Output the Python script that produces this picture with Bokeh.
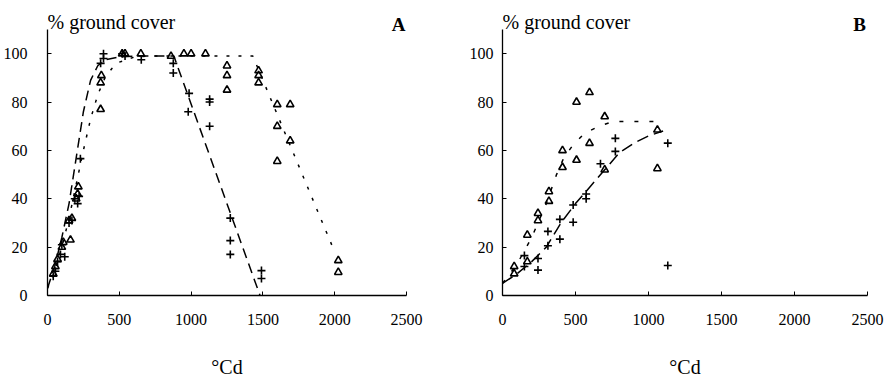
from bokeh.plotting import figure
from bokeh.layouts import row
from bokeh.models import Range1d, Label, FixedTicker
from bokeh.embed import file_html
from bokeh.resources import INLINE

# ---- Panel A: ground cover (%) against thermal time (°Cd) ----
a_tri_x = [40, 55, 70, 100, 110, 160, 150, 170, 200, 210, 215, 370, 370, 375,
           520, 540, 650, 860, 950, 1000, 1100, 1250, 1250, 1250, 1470, 1470, 1470,
           1600, 1690, 1600, 1690, 1600, 2025, 2025]
a_tri_y = [9, 12, 15, 20, 22, 23, 31, 32, 40, 42, 45, 77, 88, 91,
           100, 100, 100, 99, 100, 100, 100, 95, 91, 85, 93, 91, 88,
           79, 79, 70, 64, 55.5, 14.5, 9.6]

a_plus_x = [40, 55, 70, 90, 100, 120, 150, 170, 190, 210, 220, 229, 370, 390, 390,
            520, 540, 653, 876, 876, 986, 980, 1129, 1129, 1129, 1273, 1273, 1273,
            1490, 1490]
a_plus_y = [8, 10, 14, 17, 21, 16, 30, 31, 40, 38, 41, 56.6, 96, 100, 98,
            100, 99, 97.5, 96, 92, 83.6, 76, 81.2, 80, 70, 32, 22.7, 17,
            10.3, 7]

# fitted curves
a_fit_plus_x = [0, 50, 100, 150, 200, 250, 300, 350, 400, 500, 600, 880, 1480]
a_fit_plus_y = [3, 12, 24, 38, 57, 76, 89, 95, 97.5, 98.7, 99, 99, 0]
a_fit_tri_x = [0, 50, 100, 150, 200, 250, 300, 350, 400, 450, 500, 600, 700, 1430, 2000]
a_fit_tri_y = [3, 10, 20, 32, 46, 60, 73, 83, 90, 94, 96.5, 98.5, 99, 99, 18]

# ---- Panel B ----
b_tri_x = [80, 80, 170, 170, 243, 243, 318, 318, 411, 411, 507, 507, 596, 596,
           700, 700, 1061, 1061]
b_tri_y = [12, 9, 14, 25, 31, 34, 39, 43, 53, 60, 56, 80, 63, 84,
           52, 74, 52.5, 68.5]

b_plus_x = [150, 150, 243, 243, 311, 311, 393, 393, 484, 484, 573, 573, 671,
            773, 773, 1132, 1132]
b_plus_y = [16.5, 12, 15.3, 10.5, 20.6, 26.5, 23.3, 31.5, 30.3, 37.4, 40, 42, 54.5,
            59.6, 65, 63, 12.4]

b_fit_plus_x = [0, 100, 200, 300, 400, 500, 600, 700, 800, 900, 1000, 1100]
b_fit_plus_y = [5, 9, 14, 20, 30, 38, 45, 52, 59, 63, 66, 68]
b_fit_tri_x = [0, 100, 200, 300, 370, 420, 480, 560, 660, 760, 1100]
b_fit_tri_y = [5, 13, 24, 38, 50, 57, 62, 67, 70, 72, 72]

x_ticks = [0, 500, 1000, 1500, 2000, 2500]
y_ticks = [0, 20, 40, 60, 80, 100]
y_label = "% ground cover"
x_label = "°Cd"

SERIF = "Liberation Serif"


def panel(letter, tri_x, tri_y, plus_x, plus_y, fp_x, fp_y, ft_x, ft_y,
          border_left, border_right, ylab_standoff, plus_dash, tri_dash):
    # the y range runs past 110 so the heading texts sit inside the frame;
    # the axis itself is bounded to 0-110
    p = figure(width=border_left + 365 + border_right, height=384,
               x_range=Range1d(0, 2500), y_range=Range1d(0, 122),
               output_backend="svg", toolbar_location=None,
               min_border_left=border_left, min_border_right=border_right,
               min_border_top=0, min_border_bottom=89)
    p.outline_line_color = None
    p.grid.visible = False
    p.background_fill_color = "white"
    p.border_fill_color = "white"

    for ax in (p.xaxis[0], p.yaxis[0]):
        ax.axis_line_color = "black"
        ax.axis_line_width = 1.3
        ax.major_tick_in = 4
        ax.major_tick_out = 0
        ax.major_tick_line_color = "black"
        ax.minor_tick_line_color = None
        ax.major_label_text_font = SERIF
        ax.major_label_text_font_size = "16px"
        ax.major_label_text_color = "black"

    p.yaxis[0].bounds = (0, 110)
    p.xaxis[0].ticker = FixedTicker(ticks=x_ticks)
    p.yaxis[0].ticker = FixedTicker(ticks=y_ticks)
    p.xaxis[0].major_label_standoff = 18
    p.yaxis[0].major_label_standoff = ylab_standoff

    p.xaxis[0].axis_label = x_label
    p.xaxis[0].axis_label_text_font = SERIF
    p.xaxis[0].axis_label_text_font_style = "normal"
    p.xaxis[0].axis_label_text_font_size = "20px"
    p.xaxis[0].axis_label_text_color = "black"
    p.xaxis[0].axis_label_standoff = 28

    p.line(fp_x, fp_y, line_color="black", line_width=1.5, line_dash=plus_dash)
    p.line(ft_x, ft_y, line_color="black", line_width=1.5, line_dash=tri_dash)

    p.scatter(tri_x, tri_y, marker="triangle", size=7.5, fill_color=None,
              line_color="black", line_width=1.6)
    p.scatter(plus_x, plus_y, marker="cross", size=8,
              line_color="black", line_width=1.6)

    p.add_layout(Label(x=0, y=113, text=y_label, text_font=SERIF,
                       text_font_size="20px", text_color="black",
                       text_baseline="alphabetic", text_align="left"))
    p.add_layout(Label(x=2445, y=112, text=letter, text_font=SERIF,
                       text_font_size="19px", text_font_style="bold",
                       text_color="black", text_baseline="alphabetic",
                       text_align="center"))
    return p


pa = panel("A", a_tri_x, a_tri_y, a_plus_x, a_plus_y,
           a_fit_plus_x, a_fit_plus_y, a_fit_tri_x, a_fit_tri_y,
           41, 37, 20, "10 6", "3 9")
pb = panel("B", b_tri_x, b_tri_y, b_plus_x, b_plus_y,
           b_fit_plus_x, b_fit_plus_y, b_fit_tri_x, b_fit_tri_y,
           59, 19, 9, "12 6", "4 11")

layout = row(pa, pb, spacing=0)
open("out.html", "w").write(file_html(layout, INLINE))
